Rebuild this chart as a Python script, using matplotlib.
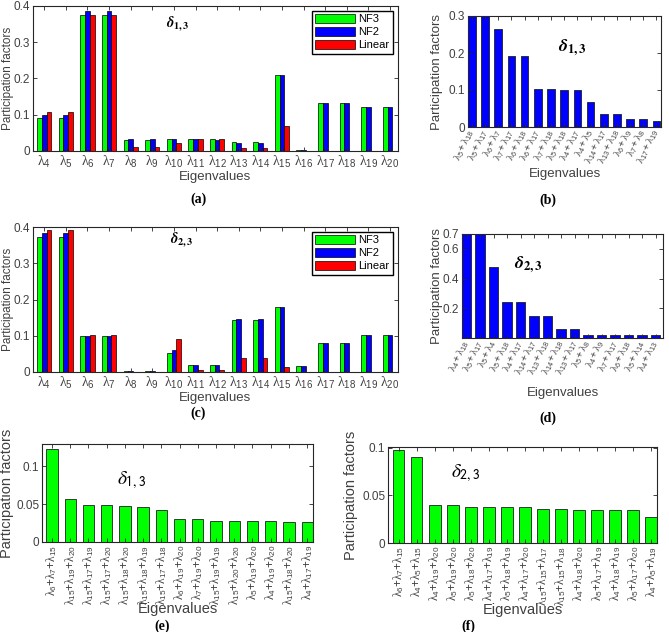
import numpy as np
import matplotlib
matplotlib.use('Agg')
import matplotlib.pyplot as plt

plt.rcParams['font.family'] = ['Liberation Sans', 'DejaVu Sans']
plt.rcParams['mathtext.fontset'] = 'custom'
plt.rcParams['mathtext.rm'] = 'Liberation Sans'
plt.rcParams['mathtext.it'] = 'Liberation Serif'
plt.rcParams['mathtext.bf'] = 'Liberation Sans:bold'
plt.rcParams['axes.edgecolor'] = '#262626'
plt.rcParams['xtick.color'] = '#262626'
plt.rcParams['ytick.color'] = '#262626'
plt.rcParams['xtick.direction'] = 'in'
plt.rcParams['ytick.direction'] = 'in'

################ data ####################
eig = [4, 5, 6, 7, 8, 9, 10, 11, 12, 13, 14, 15, 16, 17, 18, 19, 20]
# (a) delta_1,3
a_nf3 = [0.092, 0.092, 0.375, 0.375, 0.030, 0.030, 0.032, 0.032, 0.032, 0.024, 0.024, 0.210, 0.003, 0.133, 0.133, 0.120, 0.120]
a_nf2 = [0.098, 0.098, 0.386, 0.386, 0.033, 0.033, 0.034, 0.032, 0.031, 0.021, 0.021, 0.210, 0.003, 0.133, 0.133, 0.120, 0.120]
a_lin = [0.107, 0.107, 0.374, 0.374, 0.011, 0.011, 0.021, 0.034, 0.034, 0.007, 0.007, 0.070, 0.001, 0.001, 0.001, 0.001, 0.001]
# (c) delta_2,3
c_nf3 = [0.372, 0.372, 0.098, 0.098, 0.002, 0.002, 0.052, 0.018, 0.018, 0.143, 0.143, 0.180, 0.017, 0.080, 0.080, 0.101, 0.101]
c_nf2 = [0.383, 0.383, 0.100, 0.100, 0.003, 0.003, 0.060, 0.018, 0.018, 0.146, 0.146, 0.180, 0.017, 0.080, 0.080, 0.101, 0.101]
c_lin = [0.393, 0.393, 0.101, 0.101, 0.001, 0.001, 0.090, 0.006, 0.006, 0.040, 0.040, 0.013, 0.001, 0.001, 0.001, 0.001, 0.001]

# (b) second order, delta_1,3
b_pairs = [(5, 18), (5, 17), (6, 7), (7, 17), (6, 18), (6, 17), (7, 18), (5, 18), (4, 17), (4, 5), (14, 17), (13, 18), (6, 9), (7, 8), (17, 19)]
b_vals = [0.32, 0.32, 0.265, 0.193, 0.193, 0.104, 0.104, 0.100, 0.100, 0.067, 0.035, 0.035, 0.022, 0.022, 0.017]
# (d) second order, delta_2,3
d_pairs = [(4, 18), (5, 17), (5, 4), (5, 18), (4, 17), (14, 17), (13, 18), (14, 18), (13, 17), (5, 8), (4, 9), (7, 17), (6, 18), (5, 14), (4, 13)]
d_vals = [0.75, 0.75, 0.475, 0.24, 0.24, 0.15, 0.15, 0.06, 0.06, 0.018, 0.018, 0.018, 0.018, 0.018, 0.018]
# (e) third order, delta_1,3
e_trip = [(6, 7, 15), (15, 19, 20), (15, 17, 19), (15, 17, 20), (15, 18, 20), (15, 18, 19), (15, 17, 18), (6, 19, 20),
          (7, 19, 20), (15, 19, 19), (15, 20, 20), (5, 19, 20), (4, 19, 20), (15, 18, 20), (4, 17, 19)]
e_vals = [0.122, 0.0566, 0.0487, 0.0487, 0.048, 0.0465, 0.0417, 0.0307, 0.0307, 0.0276, 0.0276, 0.0276, 0.0276, 0.026, 0.026]
# (f) third order, delta_2,3
f_trip = [(6, 7, 15), (4, 5, 15), (4, 19, 20), (5, 19, 20), (5, 18, 20), (4, 17, 19), (5, 18, 19), (4, 17, 20),
          (15, 15, 17), (15, 15, 18), (4, 18, 20), (5, 17, 19), (4, 18, 19), (5, 17, 20), (4, 5, 19)]
f_vals = [0.0972, 0.0906, 0.0402, 0.0402, 0.0374, 0.0374, 0.0374, 0.0374, 0.036, 0.036, 0.0343, 0.0343, 0.0343, 0.0343, 0.027]

fig = plt.figure(figsize=(6.69, 6.32), dpi=100)


def pos(x0, y0, x1, y1):
    # pixel box -> figure fraction
    return [x0 / 669, 1 - y1 / 632, (x1 - x0) / 669, (y1 - y0) / 632]


def grouped(ax, nf3, nf2, lin, title, tpos, ylab_x, xlab_y):
    x = np.array(eig)
    w = 0.22
    ax.bar(x - w, nf3, w, color='#00ff00', edgecolor='k', linewidth=0.5, label='NF3')
    ax.bar(x, nf2, w, color='#0000ff', edgecolor='k', linewidth=0.5, label='NF2')
    ax.bar(x + w, lin, w, color='#ff0000', edgecolor='k', linewidth=0.5, label='Linear')
    ax.set_xlim(3.48, 20.37)
    ax.set_ylim(0, 0.4)
    ax.set_xticks(x)
    ax.set_xticklabels([r'$\lambda_{%d}$' % i for i in eig], fontsize=10, color='#404040')
    ax.set_yticks([0, 0.1, 0.2, 0.3, 0.4])
    ax.set_yticklabels(['0', '0.1', '0.2', '0.3', '0.4'], fontsize=8.5, color='#404040')
    ax.tick_params(top=True, right=True, length=3, width=0.6, pad=2)
    ax.set_ylabel('Participation factors', fontsize=8.5, color='#404040')
    ax.set_xlabel('Eigenvalues', fontsize=9.5, color='#404040')
    ax.yaxis.set_label_coords(ylab_x, 0.5)
    ax.xaxis.set_label_coords(0.5, xlab_y)
    ax.text(tpos[0], tpos[1], title, transform=ax.transAxes, fontsize=10.5,
            ha='center', va='center', math_fontfamily='stix')
    ax.legend(loc='upper right', fontsize=8, fancybox=False, edgecolor='k', framealpha=1,
              handlelength=3.6, handleheight=0.8, borderpad=0.3, labelspacing=0.25,
              handletextpad=0.3, borderaxespad=0.45)


def ranked(ax, labels, vals, color, width, xlim, ylim, yticks, yticklabels, rot, title, tpos, tsize, lab_fs,
           ylab_x, xlab_y, tick_fs, title_ff='stix'):
    x = np.arange(1, len(vals) + 1)
    ax.bar(x, vals, width, color=color, edgecolor='#202020', linewidth=0.6)
    ax.set_xlim(*xlim)
    ax.set_ylim(*ylim)
    ax.set_xticks(x)
    if rot == 90:
        ax.set_xticklabels(labels, rotation=90, ha='center', va='top', fontsize=tick_fs, color='#404040')
    else:
        ax.set_xticklabels(labels, rotation=rot, ha='right', va='center', rotation_mode='anchor',
                           fontsize=tick_fs, color='#404040')
    ax.set_yticks(yticks)
    ax.set_yticklabels(yticklabels, fontsize=8.5, color='#404040')
    ax.tick_params(top=True, right=True, length=3, width=0.6, pad=2)
    ax.set_ylabel('Participation factors', fontsize=lab_fs, color='#404040')
    ax.set_xlabel('Eigenvalues', fontsize=lab_fs, color='#404040')
    ax.yaxis.set_label_coords(ylab_x, 0.5)
    ax.xaxis.set_label_coords(0.5, xlab_y)
    ax.text(tpos[0], tpos[1], title, transform=ax.transAxes, fontsize=tsize,
            ha='center', va='center', math_fontfamily=title_ff)


pair_lab = lambda p: r'$\lambda_{%d}+\lambda_{%d}$' % p
trip_lab = lambda t: r'$\lambda_{%d}$+$\lambda_{%d}$+$\lambda_{%d}$' % t

# (a)
ax_a = fig.add_axes(pos(33, 6, 398, 151))
grouped(ax_a, a_nf3, a_nf2, a_lin, r'$\boldsymbol{\delta}_{\mathbf{1,3}}$', (0.397, 0.88), -0.052, -0.135)
# (c)
ax_c = fig.add_axes(pos(33, 227, 398, 372))
grouped(ax_c, c_nf3, c_nf2, c_lin, r'$\boldsymbol{\delta}_{\mathbf{2,3}}$', (0.408, 0.91), -0.052, -0.14)

# (b)
ax_b = fig.add_axes(pos(468, 16, 661, 127))
ranked(ax_b, [pair_lab(p) for p in b_pairs], b_vals, '#0000ff', 0.58, (0.7, 15.35), (0, 0.3),
       [0, 0.1, 0.2, 0.3], ['0', '0.1', '0.2', '0.3'], 65,
       r'$\boldsymbol{\delta}_{\mathbf{1,3}}$', (0.54, 0.71), 13, 9.5, -0.13, -0.37, 7.5)
# (d)
ax_d = fig.add_axes(pos(462, 234, 663, 338))
ranked(ax_d, [pair_lab(p) for p in d_pairs], d_vals, '#0000ff', 0.7, (0.65, 15.55), (0, 0.7),
       [0.2, 0.4, 0.6, 0.7], ['0.2', '0.4', '0.6', '0.7'], 65,
       r'$\boldsymbol{\delta}_{\mathbf{2,3}}$', (0.33, 0.70), 13, 9.5, -0.095, -0.47, 7.5)
# (e)
ax_e = fig.add_axes(pos(42, 444, 313, 542))
ranked(ax_e, [trip_lab(t) for t in e_trip], e_vals, '#00ff00', 0.62, (0.45, 15.32), (0, 0.129),
       [0, 0.05, 0.1], ['0', '0.05', '0.1'], 90,
       r'$\delta_{\mathsf{1,3}}$', (0.33, 0.63), 14, 10.5, -0.103, -0.61, 8.4)
# (f)
ax_f = fig.add_axes(pos(388, 447, 657, 543))
ranked(ax_f, [trip_lab(t) for t in f_trip], f_vals, '#00ff00', 0.64, (0.41, 15.32), (0, 0.1007),
       [0, 0.05, 0.1], ['0', '0.05', '0.1'], 90,
       r'$\delta_{\mathsf{2,3}}$', (0.29, 0.73), 14, 10.5, -0.11, -0.625, 8.4)

# captions
for lab, cx, cy in [('(a)', 198, 199), ('(b)', 548, 200), ('(c)', 198, 413),
                    ('(d)', 548, 418), ('(e)', 162, 626), ('(f)', 468, 626)]:
    fig.text(cx / 669, 1 - cy / 632, lab, ha='center', va='center', fontsize=10,
             family='Liberation Serif', weight='bold')

fig.savefig('out.png', dpi=100)
